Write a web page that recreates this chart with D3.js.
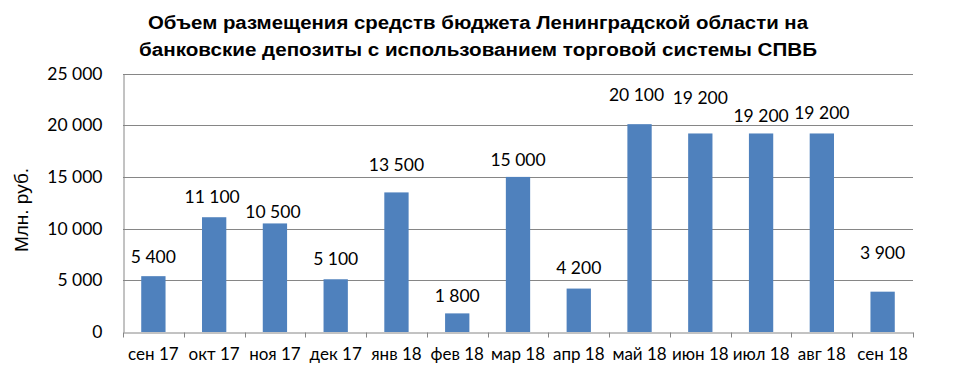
<!DOCTYPE html>
<html>
<head>
<meta charset="utf-8">
<script src="https://cdn.jsdelivr.net/npm/d3@7"></script>
<style>
  body { margin: 0; background: #fff; }
  svg { display: block; }
</style>
</head>
<body>
<div id="chartContainer"></div>
<script>
const width = 973;
const height = 376;

const categories = ["сен 17", "окт 17", "ноя 17", "дек 17", "янв 18", "фев 18", "мар 18",
    "апр 18", "май 18", "июн 18", "июл 18", "авг 18", "сен 18"];
const values = [5400, 11100, 10500, 5100, 13500, 1800, 15000, 4200, 20100, 19200, 19200, 19200, 3900];
const yTicks = [0, 5000, 10000, 15000, 20000, 25000];
const titleLines = ["Объем размещения средств бюджета Ленинградской области на",
    "банковские депозиты с  использованием торговой системы СПВБ"];
const yTitle = "Млн. руб.";

// hand-placed label shifts (Excel moved some labels around), [dx, dy] in px
const labelShift = [[0, 0], [-2, -1], [-2, 8], [0, -1], [0, -8], [0, 2], [0, 2],
    [0, -2], [-3, -10], [0, -16], [0, 2], [0, -1], [0, -20]];

const plotLeft = 123, plotRight = 913, plotTop = 73.5, plotBottom = 332;
const barColor = "#4F81BD";
const gridColor = "#868686";
const labelFont = "Lato, 'Open Sans', sans-serif";

const fmt = d3.formatLocale({decimal: ",", thousands: " ", grouping: [3], currency: ["", ""]}).format(",");

const svg = d3.select("#chartContainer")
    .append("svg")
    .attr("width", width)
    .attr("height", height);

const x = d3.scaleBand()
    .domain(categories)
    .range([plotLeft, plotRight])
    .paddingInner(0.6)
    .paddingOuter(0.3);

const y = d3.scaleLinear()
    .domain([0, 25000])
    .range([plotBottom, plotTop]);

// gridlines
svg.append("g")
    .selectAll("line")
    .data(yTicks.filter(d => d > 0))
    .enter()
    .append("line")
    .attr("x1", plotLeft)
    .attr("x2", plotRight)
    .attr("y1", d => Math.round(y(d)) + 0.5)
    .attr("y2", d => Math.round(y(d)) + 0.5)
    .attr("stroke", gridColor)
    .attr("stroke-width", 1);

// y axis
const yAxis = svg.append("g")
    .attr("transform", `translate(${plotLeft + 0.5},0)`)
    .call(d3.axisLeft(y).tickValues(yTicks).tickSize(0).tickPadding(21).tickFormat(fmt));
yAxis.select(".domain").attr("stroke", gridColor);
yAxis.selectAll("text")
    .style("font-family", labelFont)
    .style("font-size", "17.5px")
    .attr("fill", "#000");

// x axis
const xAxis = svg.append("g")
    .attr("transform", `translate(0,${Math.round(plotBottom) + 0.5})`)
    .call(d3.axisBottom(x).tickSize(0).tickPadding(15));
xAxis.select(".domain").attr("stroke", gridColor);
xAxis.selectAll("text")
    .style("font-family", labelFont)
    .style("font-size", "17px")
    .attr("fill", "#000");

// category boundary ticks
const step = x.step();
xAxis.selectAll(".bound")
    .data(d3.range(categories.length + 1))
    .enter()
    .append("line")
    .attr("class", "bound")
    .attr("x1", i => Math.round(plotLeft + i * step) + 0.5)
    .attr("x2", i => Math.round(plotLeft + i * step) + 0.5)
    .attr("y1", 0)
    .attr("y2", 5)
    .attr("stroke", gridColor);

// bars
svg.append("g")
    .selectAll("rect")
    .data(values)
    .enter()
    .append("rect")
    .attr("x", (d, i) => x(categories[i]))
    .attr("y", d => y(d))
    .attr("width", x.bandwidth())
    .attr("height", d => y(0) - y(d))
    .attr("fill", barColor);

// value labels
svg.append("g")
    .selectAll("text")
    .data(values)
    .enter()
    .append("text")
    .attr("x", (d, i) => x(categories[i]) + x.bandwidth() / 2 + labelShift[i][0])
    .attr("y", (d, i) => y(d) - 13 + labelShift[i][1])
    .attr("text-anchor", "middle")
    .style("font-family", labelFont)
    .style("font-size", "17.5px")
    .attr("fill", "#000")
    .text(d => fmt(d));

// y title
svg.append("text")
    .attr("transform", "translate(28,210) rotate(-90)")
    .attr("text-anchor", "middle")
    .style("font-family", "'Liberation Sans', Arial, sans-serif")
    .style("font-size", "19px")
    .attr("fill", "#000")
    .text(yTitle);

// title
svg.append("g")
    .selectAll("text")
    .data(titleLines)
    .enter()
    .append("text")
    .attr("x", 478)
    .attr("y", (d, i) => 29 + i * 27)
    .attr("text-anchor", "middle")
    .attr("textLength", (d, i) => i === 0 ? 660 : 678)
    .attr("lengthAdjust", "spacingAndGlyphs")
    .style("font-family", "'Liberation Sans', Arial, sans-serif")
    .style("font-weight", "bold")
    .style("font-size", "18px")
    .attr("fill", "#000")
    .text(d => d);
</script>
</body>
</html>
